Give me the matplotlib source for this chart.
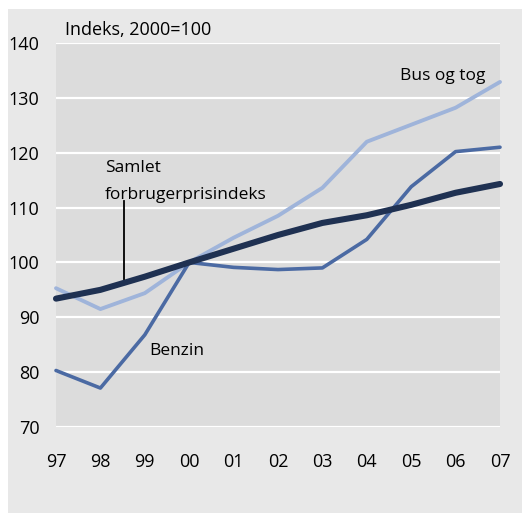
import matplotlib.pyplot as plt
from matplotlib.patches import Rectangle

years = ["97", "98", "99", "00", "01", "02", "03", "04", "05", "06", "07"]
samlet = [93.4, 95.0, 97.4, 100.0, 102.5, 105.0, 107.2, 108.6, 110.5, 112.7, 114.3]
benzin = [80.3, 77.1, 86.8, 100.0, 99.1, 98.7, 99.0, 104.2, 113.8, 120.2, 121.0]
bus_tog = [95.3, 91.5, 94.4, 100.0, 104.5, 108.5, 113.6, 122.0, 125.1, 128.2, 132.9]
y_ticks = [70, 80, 90, 100, 110, 120, 130, 140]

plt.rcParams["font.family"] = ["Open Sans", "DejaVu Sans"]

fig = plt.figure(figsize=(5.22, 5.13), dpi=100, facecolor="white")
fig.patches.append(Rectangle((8 / 522, 0), 1 - 8 / 522, 504 / 513,
                             transform=fig.transFigure, facecolor="#e8e8e8",
                             edgecolor="none", zorder=-10))

ax = fig.add_axes([56 / 522, 86 / 513, 444 / 522, 384 / 513])
ax.set_facecolor("#dcdcdc")
x = list(range(len(years)))

ax.plot(x, bus_tog, color="#9fb4da", lw=2.8, solid_capstyle="round", clip_on=False, zorder=3)
ax.plot(x, benzin, color="#4b6aa3", lw=2.6, solid_capstyle="round", clip_on=False, zorder=4)
ax.plot(x, samlet, color="#1f3152", lw=4.4, solid_capstyle="round", clip_on=False, zorder=5)

ax.set_xlim(0, 10)
ax.set_ylim(70, 140)
ax.set_xticks(x)
ax.set_xticklabels(years)
ax.set_yticks(y_ticks)
ax.tick_params(axis="both", length=0, labelsize=13)
ax.tick_params(axis="y", pad=12)
ax.tick_params(axis="x", pad=19)
ax.grid(axis="y", color="white", lw=1.6, zorder=1)
ax.set_axisbelow(True)
for s in ax.spines.values():
    s.set_visible(False)

ax.text(0.2, 141.5, "Indeks, 2000=100", fontsize=13, va="baseline", ha="left", clip_on=False)
ax.text(9.66, 133.3, "Bus og tog", fontsize=12.5, ha="right", va="baseline")
ax.text(1.1, 116.5, "Samlet", fontsize=12.5, ha="left", va="baseline")
t = ax.text(1.1, 111.6, "forbrugerprisindeks", fontsize=12.5, ha="left", va="baseline")
t.set_clip_path(Rectangle((0, 111.3), 10, 10, transform=ax.transData))
ax.plot([1.53, 1.53], [111.2, 97.0], color="black", lw=1.3, zorder=6)
ax.text(2.09, 83.1, "Benzin", fontsize=12.5, ha="left", va="baseline")

fig.savefig("out.png", dpi=100, facecolor=fig.get_facecolor())
